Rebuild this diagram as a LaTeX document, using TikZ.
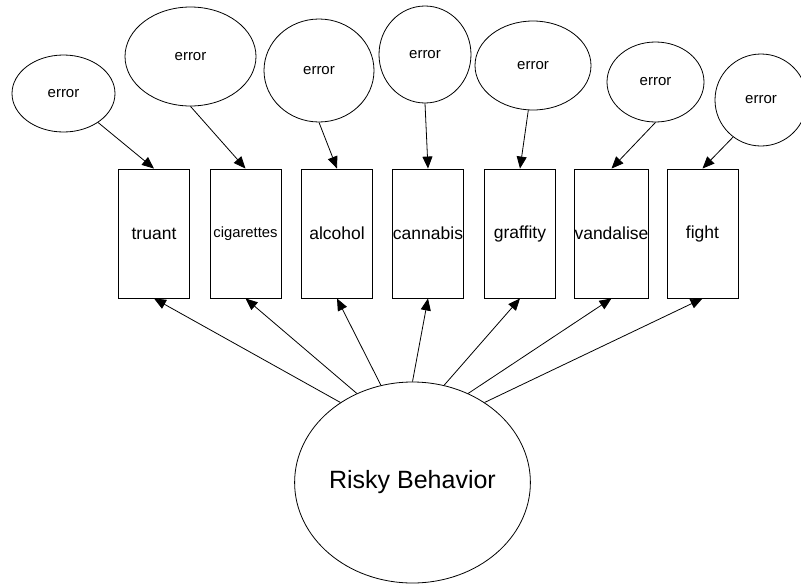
\documentclass[tikz,border=0pt]{standalone}
\usepackage{fontspec}
\setmainfont{Liberation Sans}
\usetikzlibrary{shapes.geometric,arrows.meta}
\begin{document}
\begin{tikzpicture}[x=1pt,y=-1pt,
  errnode/.style={draw,ellipse,inner sep=0pt,line width=0.8pt,font=\fontsize{15}{15}\selectfont},
  obsbox/.style={draw,rectangle,inner sep=0pt,minimum width=71pt,minimum height=129pt,line width=0.9pt,font=\fontsize{17.5}{17.5}\selectfont},
  latent/.style={draw,ellipse,inner sep=0pt,line width=0.8pt,font=\fontsize{25}{25}\selectfont},
  path/.style={line width=0.8pt,-{Triangle[length=12pt,width=10pt]}}]
\path[use as bounding box,clip] (0,0) rectangle (801,584);
\fill[white] (0,0) rectangle (801,584);

% observed indicators
\node[obsbox] (b1) at (154,233.5) {truant};
\node[obsbox,font=\fontsize{14.8}{14.8}\selectfont] (b2) at (245.5,233.5) {cigarettes};
\node[obsbox] (b3) at (337,233.5) {alcohol};
\node[obsbox] (b4) at (428,233.5) {cannabis};
\node[obsbox] (b5) at (520,233.5) {graffity};
\node[obsbox] (b6) at (611.5,233.5) {vandalise};
\node[obsbox] (b7) at (702.5,233.5) {fight};

% error terms
\node[errnode,minimum width=103pt,minimum height=77pt] (e1) at (63.5,93.5) {error};
\node[errnode,minimum width=131pt,minimum height=99pt] (e2) at (190.5,56.5) {error};
\node[errnode,minimum width=110pt,minimum height=103pt] (e3) at (319,70.5) {error};
\node[errnode,minimum width=92pt,minimum height=97pt] (e4) at (425,54.5) {error};
\node[errnode,minimum width=116pt,minimum height=89pt] (e5) at (533,65.5) {error};
\node[errnode,minimum width=97pt,minimum height=80pt] (e6) at (655.5,82) {error};
\node[errnode,minimum width=92pt,minimum height=92pt] (e7) at (761,100) {error};

% latent factor
\node[latent,minimum width=227pt,minimum height=201pt] (rb) at (412.5,482.5) {Risky Behavior};

% error paths
\draw[path] (e1.-40.5) -- (b1.north);
\draw[path] (e2.south) -- (b2.north);
\draw[path] (e3.south) -- (b3.north);
\draw[path] (e4.south) -- (b4.north);
\draw[path] (e5.-96) -- (b5.north);
\draw[path] (e6.south) -- (b6.north);
\draw[path] (e7.233) -- (b7.north);

% factor loadings
\draw[path] (rb.132) -- (b1.south);
\draw[path] (rb.122) -- (b2.south);
\draw[path] (rb.108) -- (b3.south);
\draw[path] (rb.90) -- (b4.south);
\draw[path] (rb.72) -- (b5.south);
\draw[path] (rb.58) -- (b6.south);
\draw[path] (rb.48) -- (b7.south);
\end{tikzpicture}
\end{document}
